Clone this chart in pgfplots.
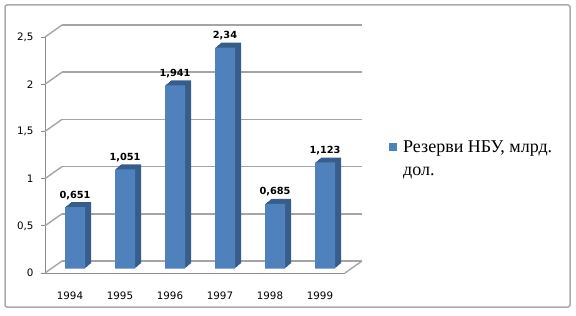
\documentclass[border=0pt]{standalone}
\usepackage{pgfplots}
\pgfplotsset{compat=1.18}
\usepackage{fontspec}
\setmainfont{DejaVu Sans}
\newfontfamily\legfont{Liberation Serif}
\definecolor{barfront}{RGB}{79,129,189}
\definecolor{barside}{RGB}{56,93,138}
\definecolor{gridc}{RGB}{165,165,165}
\definecolor{axc}{RGB}{140,140,140}
\definecolor{framec}{RGB}{170,170,170}
\pgfplotstableread{
x y
0.5 0.651
1.5 1.051
2.5 1.941
3.5 2.34
4.5 0.685
5.5 1.123
}\datatable
\begin{document}
\begin{tikzpicture}[x=1bp,y=1bp]
\useasboundingbox (0,0) rectangle (576,315);
\draw[framec, line width=1.5bp, rounded corners=2bp] (5,8) rectangle (570,310);
% back wall
\begin{axis}[at={(62bp,54bp)}, anchor=south west, scale only axis,
  width=300bp, height=236bp, xmin=0, xmax=6, ymin=0, ymax=2.5,
  axis lines*=left, axis line style={draw=none},
  xtick=\empty, ytick={0,0.5,...,2.5}, yticklabels={},
  major tick length=0pt, ymajorgrids,
  grid style={gridc, line width=1.4bp}]
\end{axis}
% front axis
\begin{axis}[at={(45bp,42bp)}, anchor=south west, scale only axis,
  width=300bp, height=236bp, xmin=0, xmax=6, ymin=0, ymax=2.5,
  clip=false,
  axis lines*=left, axis line style={axc, line width=0.9bp},
  tick align=outside, tick style={axc, line width=0.9bp},
  ytick={0,0.5,...,2.5}, major tick length=4bp,
  yticklabel style={xshift=-4bp},
  /pgf/number format/use comma,
  /pgf/number format/assume math mode=true,
  xtick={0.5,1.5,...,5.5}, xticklabels={1994,1995,1996,1997,1998,1999},
  x tick style={draw=none},
  xticklabel style={yshift=-11bp},
  minor xtick={0,1,...,6}, minor tick length=5bp,
  minor x tick style={axc, line width=0.9bp},
  tick label style={font=\fontsize{10.3bp}{12bp}\selectfont, text=black}]
\pgfplotsinvokeforeach{0,0.5,1,1.5,2,2.5}{
  \draw[gridc, line width=1.4bp] (axis cs:0,#1) -- ++(17bp,12bp);
}
\draw[gridc, line width=1.4bp] (axis cs:6,0) -- ++(17bp,12bp);
\end{axis}
% bar plane
\begin{axis}[at={(50bp,46.5bp)}, anchor=south west, scale only axis,
  width=300bp, height=236bp, xmin=0, xmax=6, ymin=0, ymax=2.5,
  clip=false, hide axis]
\pgfplotsinvokeforeach{1,2,3,4,5,6}{
\addplot[ybar, bar width=20bp, bar shift=0pt, fill=barside, draw=none, xshift=#1bp, yshift=#1*0.83bp] table[x=x,y=y] {\datatable};
}
\addplot[ybar, bar width=20bp, bar shift=0pt, fill=barfront, draw=none,
  nodes near coords, point meta=y,
  nodes near coords style={font=\fontsize{9.8bp}{11bp}\selectfont\bfseries, text=black, anchor=south, yshift=4bp,
    /pgf/number format/use comma, /pgf/number format/precision=3, /pgf/number format/assume math mode=true}]
  table[x=x,y=y] {\datatable};
\end{axis}
% legend
\fill[barfront] (389,164) rectangle (397,172);
\node[anchor=base west, inner sep=0, font=\legfont\fontsize{18bp}{20bp}\selectfont] at (403,163) {Резерви НБУ, млрд.};
\node[anchor=base west, inner sep=0, font=\legfont\fontsize{18bp}{20bp}\selectfont] at (403,140) {дол.};
\end{tikzpicture}
\end{document}
